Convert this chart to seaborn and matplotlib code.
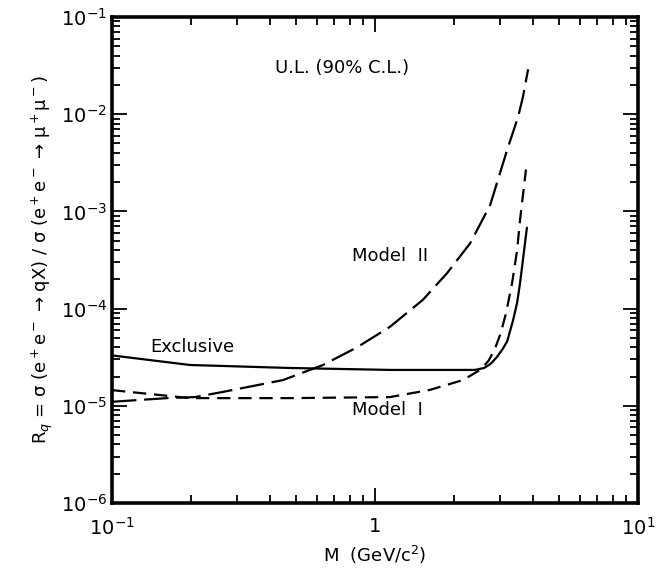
import numpy as np
import pandas as pd
import matplotlib
matplotlib.use("Agg")
import matplotlib.pyplot as plt
from matplotlib.ticker import LogLocator, FixedLocator, FixedFormatter
import seaborn as sns

# curve values (M in GeV/c^2, R_q)
excl_m = [0.1, 0.198, 0.475, 1.14, 2.4, 2.6, 2.75, 2.9, 3.05, 3.18, 3.35, 3.47, 3.56, 3.69, 3.78]
excl_r = [3.3e-5, 2.63e-5, 2.45e-5, 2.34e-5, 2.34e-5, 2.45e-5, 2.7e-5, 3.15e-5, 3.8e-5, 4.6e-5, 7.6e-5, 1.15e-4, 1.83e-4, 4.0e-4, 6.8e-4]

m1_m = [0.1, 0.198, 0.475, 1.14, 1.62, 2.16, 2.51, 2.7, 2.85, 3.0, 3.15, 3.32, 3.47, 3.56, 3.75]
m1_r = [1.45e-5, 1.2e-5, 1.2e-5, 1.23e-5, 1.46e-5, 1.84e-5, 2.34e-5, 2.9e-5, 3.8e-5, 5.5e-5, 9.0e-5, 1.83e-4, 4.0e-4, 8.2e-4, 2.7e-3]

m2_m = [0.1, 0.162, 0.207, 0.264, 0.447, 0.634, 0.855, 1.14, 1.52, 1.88, 2.30, 2.74, 3.18, 3.50, 3.65, 3.82]
m2_r = [1.1e-5, 1.2e-5, 1.23e-5, 1.39e-5, 1.84e-5, 2.63e-5, 4.0e-5, 6.5e-5, 1.23e-4, 2.32e-4, 4.7e-4, 1.16e-3, 4.3e-3, 9.4e-3, 1.5e-2, 2.9e-2]

x_ticks = [0.1, 1, 10]
x_labels = ["10$^{-1}$", "1", "10$^{1}$"]
y_ticks = [1e-6, 1e-5, 1e-4, 1e-3, 1e-2, 1e-1]
y_labels = ["10$^{-6}$", "10$^{-5}$", "10$^{-4}$", "10$^{-3}$", "10$^{-2}$", "10$^{-1}$"]

sns.set_style("ticks")
plt.rcParams["font.family"] = ["DejaVu Sans"]
plt.rcParams["text.color"] = "black"
plt.rcParams["axes.labelcolor"] = "black"

fig = plt.figure(figsize=(6.56, 5.75), dpi=100)
ax = fig.add_axes([0.1707, 0.1252, 0.8019, 0.8452])

sns.lineplot(x=excl_m, y=excl_r, ax=ax, color="black", lw=1.6)
sns.lineplot(x=m1_m, y=m1_r, ax=ax, color="black", lw=1.6, linestyle=(0, (6, 3.5)))
sns.lineplot(x=m2_m, y=m2_r, ax=ax, color="black", lw=1.6, linestyle=(0, (11, 3.5)))

ax.set_xscale("log")
ax.set_yscale("log")
ax.set_xlim(0.1, 10)
ax.set_ylim(1e-6, 1e-1)

ax.xaxis.set_major_locator(FixedLocator(x_ticks))
ax.xaxis.set_major_formatter(FixedFormatter(x_labels))
ax.yaxis.set_major_locator(FixedLocator(y_ticks))
ax.yaxis.set_major_formatter(FixedFormatter(y_labels))
ax.xaxis.set_minor_locator(LogLocator(base=10, subs=np.arange(2, 10), numticks=20))
ax.yaxis.set_minor_locator(LogLocator(base=10, subs=np.arange(2, 10), numticks=20))
ax.xaxis.set_minor_formatter(plt.NullFormatter())
ax.yaxis.set_minor_formatter(plt.NullFormatter())

ax.tick_params(which="both", direction="in", top=True, right=True, width=1.3, colors="black", labelsize=14)
ax.tick_params(which="major", length=11)
ax.tick_params(which="minor", length=6)
ax.tick_params(axis="x", which="major", pad=10)
for s in ax.spines.values():
    s.set_linewidth(2.6)
    s.set_color("black")

ax.set_xlabel("M  (GeV/c$^2$)", fontsize=13)
ax.set_ylabel("R$_q$ = σ (e$^+$e$^-$ → qX) / σ (e$^+$e$^-$ → μ$^+$μ$^-$)", fontsize=13)

ax.text(0.75, 3.0e-2, "U.L. (90% C.L.)", fontsize=13, ha="center", va="center")
ax.text(0.82, 3.5e-4, "Model  II", fontsize=13, ha="left", va="center")
ax.text(0.14, 4.0e-5, "Exclusive", fontsize=13, ha="left", va="center")
ax.text(0.82, 9.0e-6, "Model  I", fontsize=13, ha="left", va="center")

fig.savefig("out.png", dpi=100)
